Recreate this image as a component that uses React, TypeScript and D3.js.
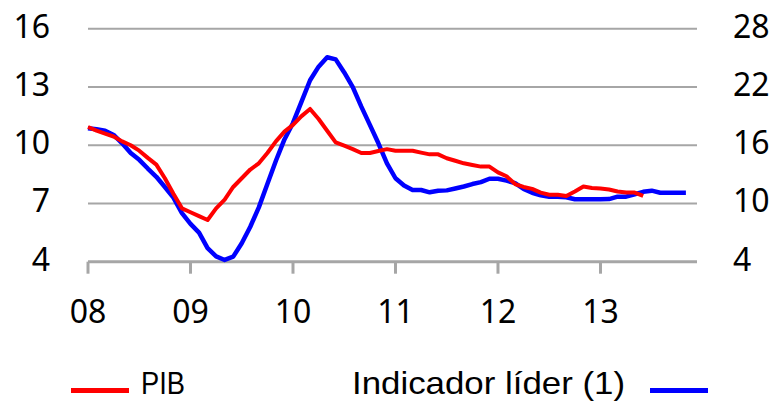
import React from "react";
import * as d3 from "d3";

// Monthly series, Jan 2008 onwards
const pib: number[] = [
  10.94, 10.75, 10.6, 10.45, 10.2, 10.0, 9.72, 9.35, 9.0, 8.3, 7.5, 6.75,
  6.55, 6.35, 6.15, 6.75, 7.2, 7.85, 8.3, 8.75, 9.07, 9.6, 10.2, 10.7,
  11.05, 11.5, 11.87, 11.35, 10.75, 10.15, 9.98, 9.8, 9.6, 9.6, 9.7, 9.8,
  9.72, 9.72, 9.72, 9.62, 9.53, 9.53, 9.33, 9.2, 9.07, 8.98, 8.9, 8.9,
  8.6, 8.4, 8.0, 7.85, 7.75, 7.56, 7.45, 7.45, 7.39, 7.62, 7.87, 7.8,
  7.77, 7.72, 7.62, 7.56, 7.56, 7.39,
];

const indicador: number[] = [
  17.75, 17.65, 17.5, 17.06, 16.2, 15.2, 14.5, 13.6, 12.75, 11.7, 10.6, 9.0,
  7.9, 7.0, 5.4, 4.55, 4.18, 4.52, 5.9, 7.6, 9.6, 12.0, 14.4, 16.6,
  18.3, 20.5, 22.7, 24.1, 25.07, 24.85, 23.5, 22.0, 19.98, 18.1, 16.2, 14.14,
  12.6, 11.85, 11.39, 11.39, 11.15, 11.32, 11.35, 11.55, 11.75, 12.0, 12.2, 12.55,
  12.55, 12.35, 12.1, 11.5, 11.1, 10.85, 10.7, 10.7, 10.64, 10.43, 10.43, 10.43,
  10.43, 10.45, 10.7, 10.7, 10.95, 11.2, 11.32, 11.11, 11.11, 11.11, 11.11,
];

const yearLabels: string[] = ["08", "09", "10", "11", "12", "13"];
const leftTicks: number[] = [4, 7, 10, 13, 16];
const rightTicks: number[] = [4, 10, 16, 22, 28];
const legendLabels: string[] = ["PIB", "Indicador líder (1)"];

const W = 778;
const H = 402;
const FONT = "'Noto Sans', 'Liberation Sans', sans-serif";
const LEGEND_FONT = "'Liberation Sans', Arial, sans-serif";

export default function App() {
  const x = d3.scaleLinear().domain([0, 71.3]).range([88, 697]);
  const yL = d3.scaleLinear().domain([4, 16]).range([261.7, 28.8]);
  const yR = d3.scaleLinear().domain([4, 28]).range([261.7, 28.8]);

  const lineL = d3
    .line<number>()
    .x((_, i) => x(i))
    .y((d) => yL(d));
  const lineR = d3
    .line<number>()
    .x((_, i) => x(i))
    .y((d) => yR(d));

  const grid = "#a6a6a6";

  return (
    <svg
      width={W}
      height={H}
      style={{ position: "absolute", left: 0, top: 0, background: "#fff" }}
      fontFamily={FONT}
    >
      <rect width={W} height={H} fill="#fff" />
      {leftTicks.slice(1).map((t) => (
        <line
          key={"g" + t}
          x1={x(0)}
          x2={x(71.3)}
          y1={yL(t)}
          y2={yL(t)}
          stroke={grid}
          strokeWidth={2}
        />
      ))}
      {/* axis */}
      <line x1={x(0)} x2={x(71.3)} y1={yL(4)} y2={yL(4)} stroke={grid} strokeWidth={3} />
      {yearLabels.map((lab, i) => (
        <line
          key={"t" + lab}
          x1={x(i * 12)}
          x2={x(i * 12)}
          y1={yL(4)}
          y2={yL(4) + 12}
          stroke={grid}
          strokeWidth={3}
        />
      ))}
      {yearLabels.map((lab, i) => (
        <text
          key={"xl" + lab}
          x={x(i * 12)}
          y={323}
          textAnchor="middle"
          fontSize={32}
          fill="#000"
        >
          {lab}
        </text>
      ))}
      {leftTicks.map((t) => (
        <text key={"l" + t} x={50} y={yL(t) + 9} textAnchor="end" fontSize={32} fill="#000">
          {t}
        </text>
      ))}
      {rightTicks.map((t) => (
        <text key={"r" + t} x={733} y={yR(t) + 9} textAnchor="start" fontSize={32} fill="#000">
          {t}
        </text>
      ))}
      <path
        d={lineR(indicador) || ""}
        fill="none"
        stroke="#0000ff"
        strokeWidth={4.5}
        strokeLinejoin="round"
      />
      <path
        d={lineL(pib) || ""}
        fill="none"
        stroke="#ff0000"
        strokeWidth={4}
        strokeLinejoin="round"
      />
      {/* legend */}
      <line x1={71} x2={129} y1={390.5} y2={390.5} stroke="#ff0000" strokeWidth={5} />
      <text
        x={141}
        y={394}
        fontSize={32}
        fontFamily={LEGEND_FONT}
        fill="#000"
        textLength={44}
        lengthAdjust="spacingAndGlyphs"
      >
        {legendLabels[0]}
      </text>
      <text
        x={352}
        y={394}
        fontSize={32}
        fontFamily={LEGEND_FONT}
        fill="#000"
        textLength={273}
        lengthAdjust="spacingAndGlyphs"
      >
        {legendLabels[1]}
      </text>
      <line x1={650} x2={708} y1={390.5} y2={390.5} stroke="#0000ff" strokeWidth={5} />
    </svg>
  );
}
